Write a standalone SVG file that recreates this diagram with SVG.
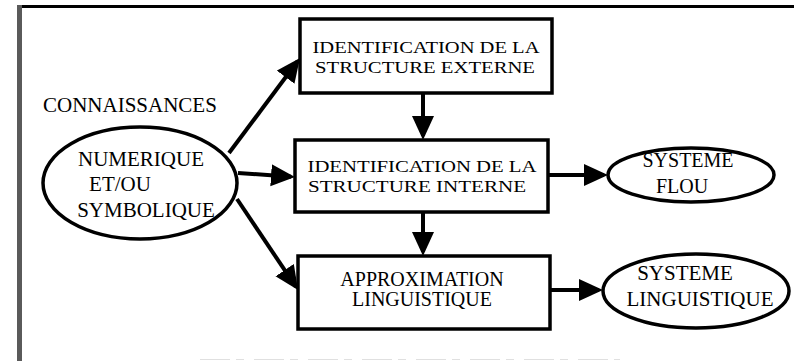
<svg xmlns="http://www.w3.org/2000/svg" width="794" height="361" viewBox="0 0 794 361">
  <style>
    .box { fill: #fff; stroke: #000; stroke-width: 3.5; }
    .oval { fill: #fff; stroke: #000; stroke-width: 3.5; }
    .lbl { font-family: "Liberation Serif", "Times New Roman", serif; font-size: 20px; fill: #000; text-anchor: middle; }
    .big { font-size: 21px; }
    .small { font-size: 17px; }
    .edge { stroke: #000; stroke-width: 4; fill: none; marker-end: url(#head); }
  </style>
  <defs>
    <marker id="head" markerUnits="userSpaceOnUse" markerWidth="26" markerHeight="24" refX="20" refY="11" orient="auto">
      <path d="M0,0 L24,11 L0,22 Z" fill="#000"/>
    </marker>
  </defs>

  <rect width="794" height="361" fill="#fff"/>

  <!-- page frame -->
  <g id="frame">
    <rect x="17" y="5" width="5" height="356" fill="#5a5a5a"/>
    <rect x="22" y="5" width="772" height="3" fill="#000"/>
    <line x1="200" y1="359.5" x2="620" y2="359.5" stroke="#e0e0e0" stroke-width="1" stroke-dasharray="30 6 8 10"/>
  </g>

  <g id="connaissances">
    <text class="lbl big" x="43" y="112" style="text-anchor:start">CONNAISSANCES</text>
  </g>

  <g id="source">
    <ellipse class="oval" cx="140" cy="183" rx="97" ry="56"/>
    <text class="lbl big" x="141" y="166">NUMERIQUE</text>
    <text class="lbl big" x="120" y="191">ET/OU</text>
    <text class="lbl big" x="146" y="217">SYMBOLIQUE</text>
  </g>

  <g id="externe">
    <rect class="box" x="300" y="19" width="252" height="74"/>
    <text class="lbl small" x="426" y="53" textLength="227" lengthAdjust="spacingAndGlyphs">IDENTIFICATION DE LA</text>
    <text class="lbl small" x="425" y="73" textLength="220" lengthAdjust="spacingAndGlyphs">STRUCTURE EXTERNE</text>
  </g>

  <g id="interne">
    <rect class="box" x="295" y="140" width="253" height="72"/>
    <text class="lbl small" x="422" y="172" textLength="229" lengthAdjust="spacingAndGlyphs">IDENTIFICATION DE LA</text>
    <text class="lbl small" x="417" y="192" textLength="218" lengthAdjust="spacingAndGlyphs">STRUCTURE INTERNE</text>
  </g>

  <g id="approximation">
    <rect class="box" x="298" y="256" width="252" height="73"/>
    <text class="lbl" x="422" y="286">APPROXIMATION</text>
    <text class="lbl" x="422" y="306">LINGUISTIQUE</text>
  </g>

  <g id="flou">
    <ellipse class="oval" cx="691" cy="175" rx="83" ry="27"/>
    <text class="lbl" x="688" y="167">SYSTEME</text>
    <text class="lbl" x="682" y="193">FLOU</text>
  </g>

  <g id="linguistique">
    <ellipse class="oval" cx="696" cy="291" rx="93" ry="37"/>
    <text class="lbl big" x="685" y="280">SYSTEME</text>
    <text class="lbl big" x="700" y="306">LINGUISTIQUE</text>
  </g>

  <g id="connectors">
    <line class="edge" x1="229" y1="153" x2="297.6" y2="61.2"/>
    <line class="edge" x1="238" y1="173" x2="291" y2="176.7"/>
    <line class="edge" x1="237" y1="199" x2="295.8" y2="286.7"/>
    <line class="edge" x1="423" y1="93" x2="423" y2="136"/>
    <line class="edge" x1="423" y1="212" x2="423" y2="252"/>
    <line class="edge" x1="548" y1="175" x2="604" y2="175"/>
    <line class="edge" x1="550" y1="290" x2="599" y2="290"/>
  </g>
</svg>
